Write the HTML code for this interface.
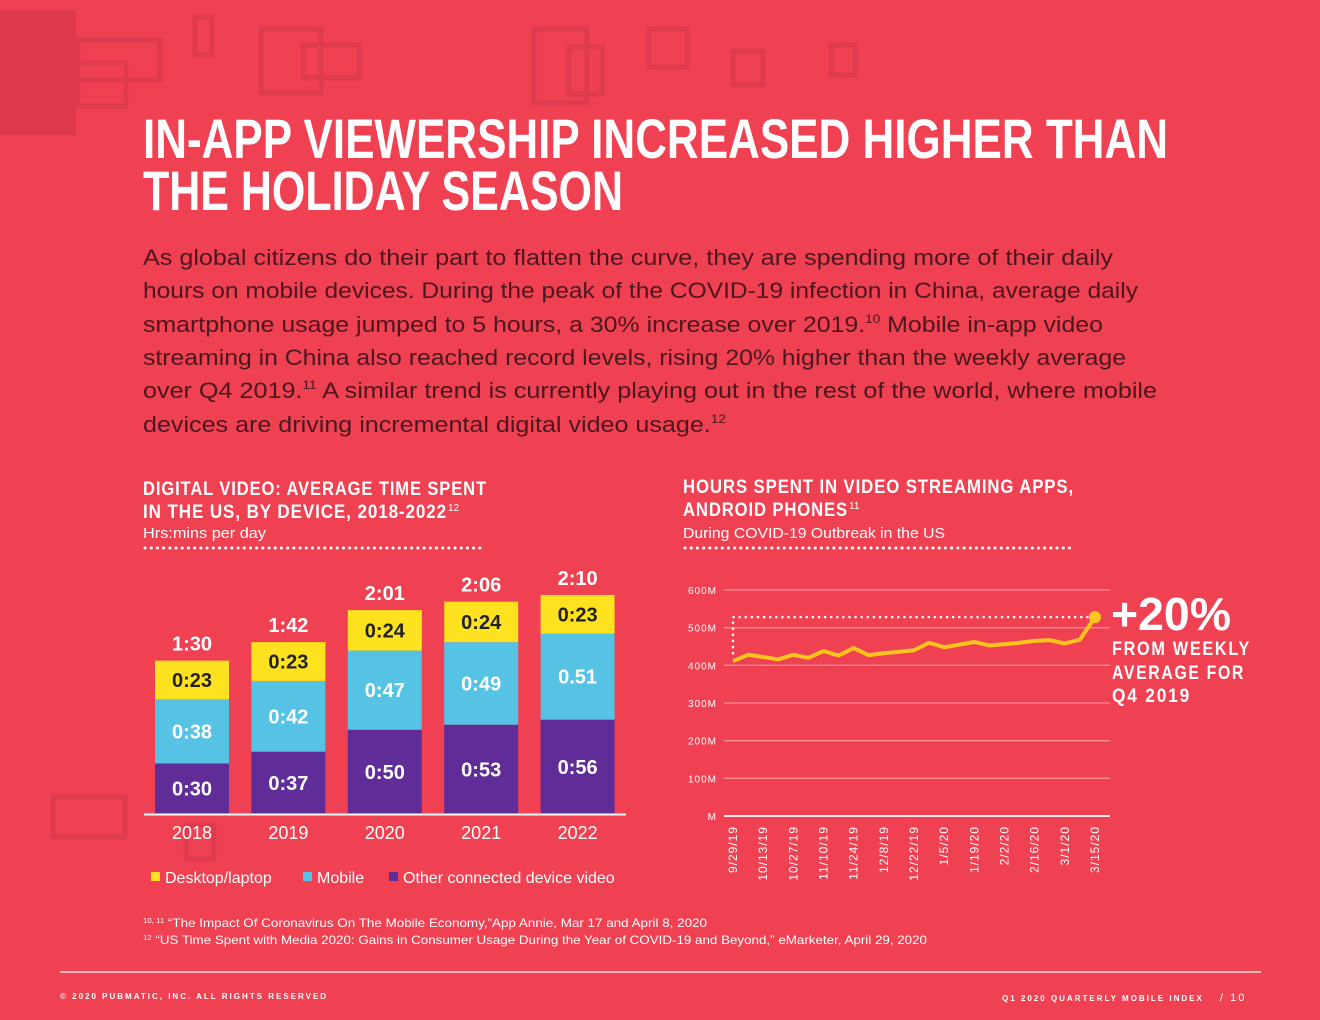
<!DOCTYPE html>
<html><head><meta charset="utf-8">
<style>
html,body{margin:0;padding:0;background:#EF4152;}
svg{display:block;font-family:"Liberation Sans",sans-serif;}
.cond{font-family:"Liberation Sans Narrow","Liberation Sans",sans-serif;font-weight:bold;}
</style></head>
<body>
<svg id="page" width="1320" height="1020" viewBox="0 0 1320 1020" xmlns="http://www.w3.org/2000/svg">
<rect width="1320" height="1020" fill="#EF4152"/>
<g fill="none" stroke="#DE3C4D" stroke-width="5">
<rect x="0" y="10" width="76" height="125" fill="#DC3A4A" stroke="none"/>
<rect x="78" y="40" width="82" height="40"/><rect x="78" y="63" width="48" height="43"/>
<rect x="195" y="17" width="17" height="38"/><rect x="261" y="29" width="60" height="64"/>
<rect x="303" y="45" width="56" height="33"/><rect x="534" y="29" width="53" height="74"/>
<rect x="569" y="47" width="33" height="47"/><rect x="649" y="29" width="38" height="38"/>
<rect x="733" y="51" width="30" height="34"/><rect x="831" y="45" width="24" height="30"/>
<rect x="53" y="797" width="72" height="40"/><rect x="186" y="825" width="28" height="34"/>
</g>
<g fill="#fff" class="cond" font-size="56">
<text x="143" y="158" textLength="1025" lengthAdjust="spacingAndGlyphs">IN-APP VIEWERSHIP INCREASED HIGHER THAN</text>
<text x="143" y="210" textLength="480" lengthAdjust="spacingAndGlyphs">THE HOLIDAY SEASON</text>
</g>
<g fill="#3a1219" font-size="22" fill-opacity="0.9">
<text x="143" y="265" textLength="970" lengthAdjust="spacingAndGlyphs">As global citizens do their part to flatten the curve, they are spending more of their daily</text>
<text x="143" y="298" textLength="995" lengthAdjust="spacingAndGlyphs">hours on mobile devices. During the peak of the COVID-19 infection in China, average daily</text>
<text x="143" y="332" textLength="960" lengthAdjust="spacingAndGlyphs">smartphone usage jumped to 5 hours, a 30% increase over 2019.<tspan font-size="12" dy="-9">10</tspan><tspan dy="9"> Mobile in-app video</tspan></text>
<text x="143" y="365" textLength="983" lengthAdjust="spacingAndGlyphs">streaming in China also reached record levels, rising 20% higher than the weekly average</text>
<text x="143" y="398" textLength="1014" lengthAdjust="spacingAndGlyphs">over Q4 2019.<tspan font-size="12" dy="-9">11</tspan><tspan dy="9"> A similar trend is currently playing out in the rest of the world, where mobile</tspan></text>
<text x="143" y="432" textLength="583" lengthAdjust="spacingAndGlyphs">devices are driving incremental digital video usage.<tspan font-size="12" dy="-9">12</tspan></text>
</g>

<g fill="#fff">
<text class="cond" x="143" y="495" font-size="19" textLength="344" lengthAdjust="spacingAndGlyphs" letter-spacing="1">DIGITAL VIDEO: AVERAGE TIME SPENT</text>
<text class="cond" x="143" y="518" font-size="19" textLength="304" lengthAdjust="spacingAndGlyphs" letter-spacing="1">IN THE US, BY DEVICE, 2018-2022</text>
<text x="448" y="511" font-size="10">12</text>
<text x="143" y="538" font-size="15" textLength="123" lengthAdjust="spacingAndGlyphs">Hrs:mins per day</text>
<line x1="145" y1="548" x2="485" y2="548" stroke="#fff" stroke-width="3" stroke-dasharray="0.1 6.1" stroke-linecap="round"/>
</g>
<g id="barChart"></g>

<g font-size="16" fill="#fff">
<g><rect x="151" y="872" width="9" height="9" fill="#FFE21F"/><text x="165" y="883">Desktop/laptop</text></g>
<g><rect x="303" y="872" width="9" height="9" fill="#56C2E4"/><text x="317" y="883">Mobile</text></g>
<g><rect x="389" y="872" width="9" height="9" fill="#602D98"/><text x="403" y="883">Other connected device video</text></g>
</g>

<g fill="#fff">
<text class="cond" x="683" y="493" font-size="19" textLength="391" lengthAdjust="spacingAndGlyphs" letter-spacing="1">HOURS SPENT IN VIDEO STREAMING APPS,</text>
<text class="cond" x="683" y="516" font-size="19" textLength="165" lengthAdjust="spacingAndGlyphs" letter-spacing="1">ANDROID PHONES</text>
<text x="849" y="509" font-size="10">11</text>
<text x="683" y="538" font-size="15" textLength="262" lengthAdjust="spacingAndGlyphs">During COVID-19 Outbreak in the US</text>
<line x1="685" y1="548" x2="1075" y2="548" stroke="#fff" stroke-width="3" stroke-dasharray="0.1 6.1" stroke-linecap="round"/>
</g>
<g id="lineChart"></g>

<g fill="#fff">
<text class="cond" x="1111" y="630" font-size="46" textLength="120" lengthAdjust="spacingAndGlyphs">+20%</text>
<text class="cond" x="1112" y="655" font-size="19" textLength="139" lengthAdjust="spacingAndGlyphs" letter-spacing="2">FROM WEEKLY</text>
<text class="cond" x="1112" y="679" font-size="19" textLength="133" lengthAdjust="spacingAndGlyphs" letter-spacing="2">AVERAGE FOR</text>
<text class="cond" x="1112" y="702" font-size="19" textLength="79" lengthAdjust="spacingAndGlyphs" letter-spacing="2">Q4 2019</text>
</g>

<g fill="#fff" font-size="12">
<text x="143" y="927" textLength="564" lengthAdjust="spacingAndGlyphs"><tspan font-size="7" dy="-4">10, 11</tspan><tspan dy="4"> “The Impact Of Coronavirus On The Mobile Economy,”App Annie, Mar 17 and April 8, 2020</tspan></text>
<text x="143" y="944" textLength="784" lengthAdjust="spacingAndGlyphs"><tspan font-size="7" dy="-4">12</tspan><tspan dy="4"> “US Time Spent with Media 2020: Gains in Consumer Usage During the Year of COVID-19 and Beyond,” eMarketer, April 29, 2020</tspan></text>
</g>
<line x1="60" y1="972" x2="1261" y2="972" stroke="#fff" stroke-opacity="0.85" stroke-width="1.5"/>
<text x="60" y="999" fill="#fff" font-size="8" letter-spacing="2" font-weight="bold">© 2020 PUBMATIC, INC. ALL RIGHTS RESERVED</text>
<text x="1002" y="1001" fill="#fff" font-size="8" letter-spacing="2" font-weight="bold">Q1 2020 QUARTERLY MOBILE INDEX</text>
<text x="1220" y="1001" fill="#fff" font-size="11" letter-spacing="2">/  10</text>
</svg>
<script>
const years = ["2018","2019","2020","2021","2022"];
const otherMin = [30,37,50,53,56];
const mobileMin = [38,42,47,49,51];
const desktopMin = [23,23,24,24,23];
const totalLabels = ["1:30","1:42","2:01","2:06","2:10"];
const otherLabels = ["0:30","0:37","0:50","0:53","0:56"];
const mobileLabels = ["0:38","0:42","0:47","0:49","0.51"];
const desktopLabels = ["0:23","0:23","0:24","0:24","0:23"];

const weekLabels = ["9/29/19","10/13/19","10/27/19","11/10/19","11/24/19","12/8/19","12/22/19","1/5/20","1/19/20","2/2/20","2/16/20","3/1/20","3/15/20"];
const weeklyHours = [411,428,422,416,428,420,438,426,446,427,432,436,440,460,448,455,462,453,456,460,465,467,458,468,528];
const q4Average = 528;
const yTicks = [0,100,200,300,400,500,600];
const yTickLabels = ["M","100M","200M","300M","400M","500M","600M"];

const NS="http://www.w3.org/2000/svg";
function mk(parent,tag,attrs,text){const e=document.createElementNS(NS,tag);for(const k in attrs)e.setAttribute(k,attrs[k]);if(text!==undefined)e.textContent=text;parent.appendChild(e);return e;}

(function(){
const g=document.getElementById('barChart');
const base=814, pxPerMin=1.685, x0=155, step=96.4, bw=74;
const xb=i=>x0+i*step, yb=v=>v*pxPerMin;
years.forEach((yr,i)=>{
  const x=xb(i);
  const segs=[[otherMin[i],"#602D98",otherLabels[i],"#fff","other"],[mobileMin[i],"#56C2E4",mobileLabels[i],"#fff","mobile"],[desktopMin[i],"#FFE21F",desktopLabels[i],"#222","desktop"]];
  let y=base;
  segs.forEach(s=>{
    const h=yb(s[0]);
    const r=mk(g,'rect',{x:x,y:y-h,width:bw,height:h,fill:s[1]});
    
    
    const t=mk(g,'text',{x:x+bw/2,y:y-h/2+7,'text-anchor':'middle',fill:s[3],'font-size':20,class:'cond'},s[2]);
    
    
    y-=h;
  });
  const tt=mk(g,'text',{x:x+bw/2,y:y-10,'text-anchor':'middle',fill:'#fff','font-size':20,class:'cond'},totalLabels[i]);
  
  
  const yl=mk(g,'text',{x:x+bw/2,y:839,'text-anchor':'middle',fill:'#fff','font-size':18},yr);
  
  
});
const ax=mk(g,'line',{x1:144,y1:base+0.5,x2:626,y2:base+0.5,stroke:'#fff','stroke-width':2});


})();

(function(){
const g=document.getElementById('lineChart');
const yZero=816, yTop=590, xL=733, xR=1095;
const ys=v=>yZero-(v/600)*(yZero-yTop);
const xs=i=>xL+i*(xR-xL)/(weeklyHours.length-1);
yTicks.forEach((v,i)=>{
  const l=mk(g,'line',{x1:724,y1:ys(v),x2:1110,y2:ys(v),stroke:'#fff','stroke-opacity':i===0?0.9:0.4,'stroke-width':i===0?2:1.3});
  
  
  const t=mk(g,'text',{x:717,y:ys(v)+4,'text-anchor':'end',fill:'#fff','font-size':10,'letter-spacing':1},yTickLabels[i]);
  
  
});
weekLabels.forEach((lab,j)=>{
  const x=xs(j*2)+4;
  const t=mk(g,'text',{x:x,y:826,'text-anchor':'end',fill:'#fff','font-size':12,'letter-spacing':1,transform:`rotate(-90 ${x} 826)`},lab);
  
  
});
const ya=ys(q4Average);
const ref=mk(g,'polyline',{points:`${xs(0)},${ys(weeklyHours[0])-8} ${xs(0)},${ya} ${xs(weeklyHours.length-1)},${ya}`,fill:'none',stroke:'#fff','stroke-width':2.5,'stroke-dasharray':'0.1 6','stroke-linecap':'round'});


const pts=weeklyHours.map((v,i)=>xs(i)+','+ys(v)).join(' ');
const pl=mk(g,'polyline',{points:pts,fill:'none',stroke:'#FFC51E','stroke-width':4,'stroke-linejoin':'round'});


const n=weeklyHours.length-1;
const d=mk(g,'circle',{cx:xs(n),cy:ys(weeklyHours[n]),r:6,fill:'#FFC51E'});


})();
</script>
</body></html>
